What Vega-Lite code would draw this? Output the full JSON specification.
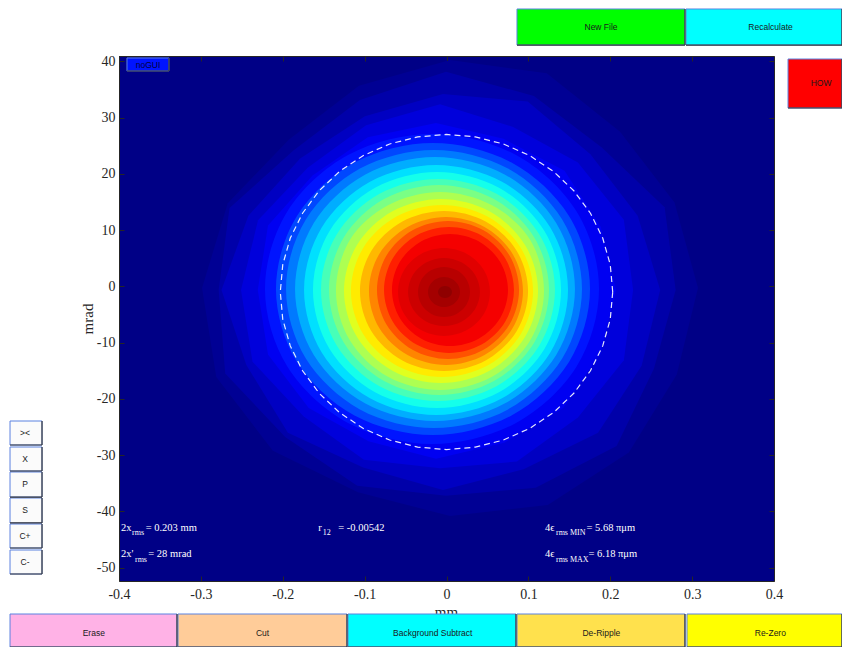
{
  "$schema": "https://vega.github.io/schema/vega-lite/v6.json",
  "width": 655,
  "height": 525,
  "autosize": {"type": "none"},
  "padding": {"left": 119, "top": 56, "right": 68, "bottom": 66},
  "background": "#ffffff",
  "config": {
    "view": {"stroke": null, "fill": "#000086"},
    "locale": {"number": {"decimal": ".", "thousands": ",", "grouping": [3], "currency": ["$", ""], "minus": "-"}},
    "axis": {
      "grid": false, "zindex": 1, "tickSize": -5, "tickColor": "#262626", "domainColor": "#262626",
      "labelFlush": false, "labelOverlap": false,
      "labelColor": "#262626", "labelFont": "Liberation Serif", "labelFontSize": 14,
      "titleFont": "Liberation Serif", "titleFontSize": 15, "titleFontWeight": "normal", "titleColor": "#262626"
    }
  },
  "datasets": {
    "outer": [
      {"l":1,"v":0.02,"i":0,"x":0.3072,"y":-0.29},{"l":1,"v":0.02,"i":1,"x":0.2785,"y":14.91},{"l":1,"v":0.02,"i":2,"x":0.2120,"y":27.50},{"l":1,"v":0.02,"i":3,"x":0.1225,"y":37.89},
      {"l":1,"v":0.02,"i":4,"x":0.0043,"y":40.23},{"l":1,"v":0.02,"i":5,"x":-0.1070,"y":35.65},{"l":1,"v":0.02,"i":6,"x":-0.1928,"y":26.07},{"l":1,"v":0.02,"i":7,"x":-0.2672,"y":14.75},
      {"l":1,"v":0.02,"i":8,"x":-0.2986,"y":-0.29},{"l":1,"v":0.02,"i":9,"x":-0.2812,"y":-16.11},{"l":1,"v":0.02,"i":10,"x":-0.2121,"y":-29.23},{"l":1,"v":0.02,"i":11,"x":-0.1082,"y":-36.60},
      {"l":1,"v":0.02,"i":12,"x":0.0043,"y":-40.81},{"l":1,"v":0.02,"i":13,"x":0.1237,"y":-38.85},{"l":1,"v":0.02,"i":14,"x":0.2227,"y":-29.51},{"l":1,"v":0.02,"i":15,"x":0.2813,"y":-15.64},
      {"l":2,"v":0.04,"i":0,"x":0.2799,"y":-0.65},{"l":2,"v":0.04,"i":1,"x":0.2664,"y":14.06},{"l":2,"v":0.04,"i":2,"x":0.1897,"y":24.66},{"l":2,"v":0.04,"i":3,"x":0.1068,"y":33.82},
      {"l":2,"v":0.04,"i":4,"x":-0.0006,"y":38.16},{"l":2,"v":0.04,"i":5,"x":-0.1058,"y":33.12},{"l":2,"v":0.04,"i":6,"x":-0.1870,"y":24.13},{"l":2,"v":0.04,"i":7,"x":-0.2650,"y":13.92},
      {"l":2,"v":0.04,"i":8,"x":-0.2783,"y":-0.65},{"l":2,"v":0.04,"i":9,"x":-0.2703,"y":-15.50},{"l":2,"v":0.04,"i":10,"x":-0.1970,"y":-26.75},{"l":2,"v":0.04,"i":11,"x":-0.1091,"y":-35.45},
      {"l":2,"v":0.04,"i":12,"x":-0.0006,"y":-37.19},{"l":2,"v":0.04,"i":13,"x":0.1089,"y":-35.80},{"l":2,"v":0.04,"i":14,"x":0.2078,"y":-28.35},{"l":2,"v":0.04,"i":15,"x":0.2533,"y":-14.63},
      {"l":3,"v":0.065,"i":0,"x":0.2610,"y":-0.65},{"l":3,"v":0.065,"i":1,"x":0.2335,"y":12.55},{"l":3,"v":0.065,"i":2,"x":0.1758,"y":23.49},{"l":3,"v":0.065,"i":3,"x":0.0992,"y":32.84},
      {"l":3,"v":0.065,"i":4,"x":-0.0043,"y":34.19},{"l":3,"v":0.065,"i":5,"x":-0.0997,"y":30.24},{"l":3,"v":0.065,"i":6,"x":-0.1788,"y":22.74},{"l":3,"v":0.065,"i":7,"x":-0.2420,"y":12.55},
      {"l":3,"v":0.065,"i":8,"x":-0.2748,"y":-0.65},{"l":3,"v":0.065,"i":9,"x":-0.2445,"y":-13.98},{"l":3,"v":0.065,"i":10,"x":-0.1937,"y":-26.02},{"l":3,"v":0.065,"i":11,"x":-0.1018,"y":-32.18},
      {"l":3,"v":0.065,"i":12,"x":-0.0043,"y":-36.19},{"l":3,"v":0.065,"i":13,"x":0.0942,"y":-32.51},{"l":3,"v":0.065,"i":14,"x":0.1851,"y":-26.02},{"l":3,"v":0.065,"i":15,"x":0.2383,"y":-14.11},
      {"l":4,"v":0.09,"i":0,"x":0.2279,"y":-0.65},{"l":4,"v":0.09,"i":1,"x":0.2166,"y":11.86},{"l":4,"v":0.09,"i":2,"x":0.1605,"y":22.00},{"l":4,"v":0.09,"i":3,"x":0.0814,"y":28.34},
      {"l":4,"v":0.09,"i":4,"x":-0.0079,"y":32.35},{"l":4,"v":0.09,"i":5,"x":-0.0982,"y":28.64},{"l":4,"v":0.09,"i":6,"x":-0.1696,"y":21.08},{"l":4,"v":0.09,"i":7,"x":-0.2302,"y":11.73},
      {"l":4,"v":0.09,"i":8,"x":-0.2510,"y":-0.65},{"l":4,"v":0.09,"i":9,"x":-0.2369,"y":-13.39},{"l":4,"v":0.09,"i":10,"x":-0.1747,"y":-23.06},{"l":4,"v":0.09,"i":11,"x":-0.1009,"y":-30.83},
      {"l":4,"v":0.09,"i":12,"x":-0.0079,"y":-32.34},{"l":4,"v":0.09,"i":13,"x":0.0860,"y":-31.13},{"l":4,"v":0.09,"i":14,"x":0.1605,"y":-23.29},{"l":4,"v":0.09,"i":15,"x":0.2166,"y":-13.15},
      {"l":5,"v":0.112,"i":0,"x":0.2070,"y":-0.65},{"l":5,"v":0.112,"i":1,"x":0.1883,"y":10.60},{"l":5,"v":0.112,"i":2,"x":0.1442,"y":20.55},{"l":5,"v":0.112,"i":3,"x":0.0696,"y":26.23},
      {"l":5,"v":0.112,"i":4,"x":-0.0128,"y":29.03},{"l":5,"v":0.112,"i":5,"x":-0.0961,"y":26.50},{"l":5,"v":0.112,"i":6,"x":-0.1636,"y":19.71},{"l":5,"v":0.112,"i":7,"x":-0.2180,"y":10.83},
      {"l":5,"v":0.112,"i":8,"x":-0.2305,"y":-0.65},{"l":5,"v":0.112,"i":9,"x":-0.2180,"y":-12.12},{"l":5,"v":0.112,"i":10,"x":-0.1683,"y":-21.63},{"l":5,"v":0.112,"i":11,"x":-0.0953,"y":-27.52},
      {"l":5,"v":0.112,"i":12,"x":-0.0128,"y":-30.62},{"l":5,"v":0.112,"i":13,"x":0.0705,"y":-27.79},{"l":5,"v":0.112,"i":14,"x":0.1426,"y":-21.63},{"l":5,"v":0.112,"i":15,"x":0.1883,"y":-11.89}
    ],
    "inner": [
      {"l":6,"v":0.145,"i":0,"x":0.1863,"y":-0.47},{"l":6,"v":0.145,"i":1,"x":0.1589,"y":13.31},{"l":6,"v":0.145,"i":2,"x":0.0843,"y":23.39},{"l":6,"v":0.145,"i":3,"x":-0.0177,"y":27.08},{"l":6,"v":0.145,"i":4,"x":-0.1197,"y":23.39},{"l":6,"v":0.145,"i":5,"x":-0.1944,"y":13.31},
      {"l":6,"v":0.145,"i":6,"x":-0.2217,"y":-0.47},{"l":6,"v":0.145,"i":7,"x":-0.1944,"y":-14.24},{"l":6,"v":0.145,"i":8,"x":-0.1197,"y":-24.32},{"l":6,"v":0.145,"i":9,"x":-0.0177,"y":-28.01},{"l":6,"v":0.145,"i":10,"x":0.0843,"y":-24.32},{"l":6,"v":0.145,"i":11,"x":0.1589,"y":-14.24},
      {"l":7,"v":0.195,"i":0,"x":0.1753,"y":-0.47},{"l":7,"v":0.195,"i":1,"x":0.1496,"y":12.51},{"l":7,"v":0.195,"i":2,"x":0.0794,"y":22.00},{"l":7,"v":0.195,"i":3,"x":-0.0165,"y":25.48},{"l":7,"v":0.195,"i":4,"x":-0.1124,"y":22.00},{"l":7,"v":0.195,"i":5,"x":-0.1826,"y":12.51},
      {"l":7,"v":0.195,"i":6,"x":-0.2083,"y":-0.47},{"l":7,"v":0.195,"i":7,"x":-0.1826,"y":-13.44},{"l":7,"v":0.195,"i":8,"x":-0.1124,"y":-22.94},{"l":7,"v":0.195,"i":9,"x":-0.0165,"y":-26.41},{"l":7,"v":0.195,"i":10,"x":0.0794,"y":-22.94},{"l":7,"v":0.195,"i":11,"x":0.1496,"y":-13.44},
      {"l":8,"v":0.245,"i":0,"x":0.1655,"y":-0.47},{"l":8,"v":0.245,"i":1,"x":0.1413,"y":11.88},{"l":8,"v":0.245,"i":2,"x":0.0751,"y":20.93},{"l":8,"v":0.245,"i":3,"x":-0.0153,"y":24.24},{"l":8,"v":0.245,"i":4,"x":-0.1057,"y":20.93},{"l":8,"v":0.245,"i":5,"x":-0.1718,"y":11.88},
      {"l":8,"v":0.245,"i":6,"x":-0.1960,"y":-0.47},{"l":8,"v":0.245,"i":7,"x":-0.1718,"y":-12.82},{"l":8,"v":0.245,"i":8,"x":-0.1057,"y":-21.86},{"l":8,"v":0.245,"i":9,"x":-0.0153,"y":-25.17},{"l":8,"v":0.245,"i":10,"x":0.0751,"y":-21.86},{"l":8,"v":0.245,"i":11,"x":0.1413,"y":-12.82},
      {"l":9,"v":0.295,"i":0,"x":0.1569,"y":-0.47},{"l":9,"v":0.295,"i":1,"x":0.1340,"y":11.26},{"l":9,"v":0.295,"i":2,"x":0.0715,"y":19.85},{"l":9,"v":0.295,"i":3,"x":-0.0141,"y":22.99},{"l":9,"v":0.295,"i":4,"x":-0.0996,"y":19.85},{"l":9,"v":0.295,"i":5,"x":-0.1621,"y":11.26},
      {"l":9,"v":0.295,"i":6,"x":-0.1850,"y":-0.47},{"l":9,"v":0.295,"i":7,"x":-0.1621,"y":-12.20},{"l":9,"v":0.295,"i":8,"x":-0.0996,"y":-20.78},{"l":9,"v":0.295,"i":9,"x":-0.0141,"y":-23.93},{"l":9,"v":0.295,"i":10,"x":0.0715,"y":-20.78},{"l":9,"v":0.295,"i":11,"x":0.1340,"y":-12.20},
      {"l":10,"v":0.345,"i":0,"x":0.1484,"y":-0.65},{"l":10,"v":0.345,"i":1,"x":0.1268,"y":10.46},{"l":10,"v":0.345,"i":2,"x":0.0678,"y":18.59},{"l":10,"v":0.345,"i":3,"x":-0.0128,"y":21.57},{"l":10,"v":0.345,"i":4,"x":-0.0934,"y":18.59},{"l":10,"v":0.345,"i":5,"x":-0.1524,"y":10.46},
      {"l":10,"v":0.345,"i":6,"x":-0.1740,"y":-0.65},{"l":10,"v":0.345,"i":7,"x":-0.1524,"y":-11.75},{"l":10,"v":0.345,"i":8,"x":-0.0934,"y":-19.88},{"l":10,"v":0.345,"i":9,"x":-0.0128,"y":-22.86},{"l":10,"v":0.345,"i":10,"x":0.0678,"y":-19.88},{"l":10,"v":0.345,"i":11,"x":0.1268,"y":-11.75},
      {"l":11,"v":0.395,"i":0,"x":0.1399,"y":-0.65},{"l":11,"v":0.395,"i":1,"x":0.1196,"y":9.84},{"l":11,"v":0.395,"i":2,"x":0.0641,"y":17.52},{"l":11,"v":0.395,"i":3,"x":-0.0116,"y":20.33},{"l":11,"v":0.395,"i":4,"x":-0.0873,"y":17.52},{"l":11,"v":0.395,"i":5,"x":-0.1428,"y":9.84},
      {"l":11,"v":0.395,"i":6,"x":-0.1631,"y":-0.65},{"l":11,"v":0.395,"i":7,"x":-0.1428,"y":-11.13},{"l":11,"v":0.395,"i":8,"x":-0.0873,"y":-18.81},{"l":11,"v":0.395,"i":9,"x":-0.0116,"y":-21.62},{"l":11,"v":0.395,"i":10,"x":0.0641,"y":-18.81},{"l":11,"v":0.395,"i":11,"x":0.1196,"y":-11.13},
      {"l":12,"v":0.445,"i":0,"x":0.1325,"y":-0.65},{"l":12,"v":0.445,"i":1,"x":0.1134,"y":9.22},{"l":12,"v":0.445,"i":2,"x":0.0611,"y":16.44},{"l":12,"v":0.445,"i":3,"x":-0.0104,"y":19.08},{"l":12,"v":0.445,"i":4,"x":-0.0818,"y":16.44},{"l":12,"v":0.445,"i":5,"x":-0.1341,"y":9.22},
      {"l":12,"v":0.445,"i":6,"x":-0.1533,"y":-0.65},{"l":12,"v":0.445,"i":7,"x":-0.1341,"y":-10.51},{"l":12,"v":0.445,"i":8,"x":-0.0818,"y":-17.73},{"l":12,"v":0.445,"i":9,"x":-0.0104,"y":-20.37},{"l":12,"v":0.445,"i":10,"x":0.0611,"y":-17.73},{"l":12,"v":0.445,"i":11,"x":0.1134,"y":-10.51},
      {"l":13,"v":0.495,"i":0,"x":0.1252,"y":-0.65},{"l":13,"v":0.495,"i":1,"x":0.1072,"y":8.69},{"l":13,"v":0.495,"i":2,"x":0.0580,"y":15.52},{"l":13,"v":0.495,"i":3,"x":-0.0092,"y":18.02},{"l":13,"v":0.495,"i":4,"x":-0.0763,"y":15.52},{"l":13,"v":0.495,"i":5,"x":-0.1255,"y":8.69},
      {"l":13,"v":0.495,"i":6,"x":-0.1435,"y":-0.65},{"l":13,"v":0.495,"i":7,"x":-0.1255,"y":-9.98},{"l":13,"v":0.495,"i":8,"x":-0.0763,"y":-16.81},{"l":13,"v":0.495,"i":9,"x":-0.0092,"y":-19.31},{"l":13,"v":0.495,"i":10,"x":0.0580,"y":-16.81},{"l":13,"v":0.495,"i":11,"x":0.1072,"y":-9.98},
      {"l":14,"v":0.545,"i":0,"x":0.1191,"y":-0.82},{"l":14,"v":0.545,"i":1,"x":0.1021,"y":8.27},{"l":14,"v":0.545,"i":2,"x":0.0556,"y":14.41},{"l":14,"v":0.545,"i":3,"x":-0.0079,"y":16.77},{"l":14,"v":0.545,"i":4,"x":-0.0715,"y":14.41},{"l":14,"v":0.545,"i":5,"x":-0.1179,"y":8.27},
      {"l":14,"v":0.545,"i":6,"x":-0.1350,"y":-0.82},{"l":14,"v":0.545,"i":7,"x":-0.1179,"y":-9.62},{"l":14,"v":0.545,"i":8,"x":-0.0715,"y":-16.06},{"l":14,"v":0.545,"i":9,"x":-0.0079,"y":-18.42},{"l":14,"v":0.545,"i":10,"x":0.0556,"y":-16.06},{"l":14,"v":0.545,"i":11,"x":0.1021,"y":-9.62},
      {"l":15,"v":0.595,"i":0,"x":0.1118,"y":-0.82},{"l":15,"v":0.595,"i":1,"x":0.0959,"y":7.35},{"l":15,"v":0.595,"i":2,"x":0.0525,"y":13.34},{"l":15,"v":0.595,"i":3,"x":-0.0067,"y":15.53},{"l":15,"v":0.595,"i":4,"x":-0.0660,"y":13.34},{"l":15,"v":0.595,"i":5,"x":-0.1093,"y":7.35},
      {"l":15,"v":0.595,"i":6,"x":-0.1252,"y":-0.82},{"l":15,"v":0.595,"i":7,"x":-0.1093,"y":-9.00},{"l":15,"v":0.595,"i":8,"x":-0.0660,"y":-14.98},{"l":15,"v":0.595,"i":9,"x":-0.0067,"y":-17.17},{"l":15,"v":0.595,"i":10,"x":0.0525,"y":-14.98},{"l":15,"v":0.595,"i":11,"x":0.0959,"y":-9.00},
      {"l":16,"v":0.645,"i":0,"x":0.1057,"y":-0.82},{"l":16,"v":0.645,"i":1,"x":0.0908,"y":6.82},{"l":16,"v":0.645,"i":2,"x":0.0501,"y":12.41},{"l":16,"v":0.645,"i":3,"x":-0.0055,"y":14.46},{"l":16,"v":0.645,"i":4,"x":-0.0611,"y":12.41},{"l":16,"v":0.645,"i":5,"x":-0.1018,"y":6.82},
      {"l":16,"v":0.645,"i":6,"x":-0.1167,"y":-0.82},{"l":16,"v":0.645,"i":7,"x":-0.1018,"y":-8.46},{"l":16,"v":0.645,"i":8,"x":-0.0611,"y":-14.06},{"l":16,"v":0.645,"i":9,"x":-0.0055,"y":-16.11},{"l":16,"v":0.645,"i":10,"x":0.0501,"y":-14.06},{"l":16,"v":0.645,"i":11,"x":0.0908,"y":-8.46},
      {"l":17,"v":0.695,"i":0,"x":0.0996,"y":-0.82},{"l":17,"v":0.695,"i":1,"x":0.0858,"y":6.29},{"l":17,"v":0.695,"i":2,"x":0.0483,"y":11.49},{"l":17,"v":0.695,"i":3,"x":-0.0031,"y":13.39},{"l":17,"v":0.695,"i":4,"x":-0.0544,"y":11.49},{"l":17,"v":0.695,"i":5,"x":-0.0919,"y":6.29},
      {"l":17,"v":0.695,"i":6,"x":-0.1057,"y":-0.82},{"l":17,"v":0.695,"i":7,"x":-0.0919,"y":-7.93},{"l":17,"v":0.695,"i":8,"x":-0.0544,"y":-13.13},{"l":17,"v":0.695,"i":9,"x":-0.0031,"y":-15.04},{"l":17,"v":0.695,"i":10,"x":0.0483,"y":-13.13},{"l":17,"v":0.695,"i":11,"x":0.0858,"y":-7.93},
      {"l":18,"v":0.745,"i":0,"x":0.0934,"y":-0.82},{"l":18,"v":0.745,"i":1,"x":0.0808,"y":5.76},{"l":18,"v":0.745,"i":2,"x":0.0464,"y":10.57},{"l":18,"v":0.745,"i":3,"x":-0.0006,"y":12.33},{"l":18,"v":0.745,"i":4,"x":-0.0476,"y":10.57},{"l":18,"v":0.745,"i":5,"x":-0.0821,"y":5.76},
      {"l":18,"v":0.745,"i":6,"x":-0.0947,"y":-0.82},{"l":18,"v":0.745,"i":7,"x":-0.0821,"y":-7.40},{"l":18,"v":0.745,"i":8,"x":-0.0476,"y":-12.21},{"l":18,"v":0.745,"i":9,"x":-0.0006,"y":-13.97},{"l":18,"v":0.745,"i":10,"x":0.0464,"y":-12.21},{"l":18,"v":0.745,"i":11,"x":0.0808,"y":-7.40},
      {"l":19,"v":0.795,"i":0,"x":0.0886,"y":-0.65},{"l":19,"v":0.795,"i":1,"x":0.0769,"y":5.49},{"l":19,"v":0.795,"i":2,"x":0.0452,"y":9.97},{"l":19,"v":0.795,"i":3,"x":0.0018,"y":11.62},{"l":19,"v":0.795,"i":4,"x":-0.0415,"y":9.97},{"l":19,"v":0.795,"i":5,"x":-0.0733,"y":5.49},
      {"l":19,"v":0.795,"i":6,"x":-0.0849,"y":-0.65},{"l":19,"v":0.795,"i":7,"x":-0.0733,"y":-6.78},{"l":19,"v":0.795,"i":8,"x":-0.0415,"y":-11.26},{"l":19,"v":0.795,"i":9,"x":0.0018,"y":-12.91},{"l":19,"v":0.795,"i":10,"x":0.0452,"y":-11.26},{"l":19,"v":0.795,"i":11,"x":0.0769,"y":-6.78},
      {"l":20,"v":0.845,"i":0,"x":0.0824,"y":-0.65},{"l":20,"v":0.845,"i":1,"x":0.0718,"y":4.95},{"l":20,"v":0.845,"i":2,"x":0.0428,"y":9.05},{"l":20,"v":0.845,"i":3,"x":0.0031,"y":10.55},{"l":20,"v":0.845,"i":4,"x":-0.0367,"y":9.05},{"l":20,"v":0.845,"i":5,"x":-0.0657,"y":4.95},
      {"l":20,"v":0.845,"i":6,"x":-0.0763,"y":-0.65},{"l":20,"v":0.845,"i":7,"x":-0.0657,"y":-6.24},{"l":20,"v":0.845,"i":8,"x":-0.0367,"y":-10.34},{"l":20,"v":0.845,"i":9,"x":0.0031,"y":-11.84},{"l":20,"v":0.845,"i":10,"x":0.0428,"y":-10.34},{"l":20,"v":0.845,"i":11,"x":0.0718,"y":-6.24},
      {"l":21,"v":0.885,"i":0,"x":0.0751,"y":-0.65},{"l":21,"v":0.885,"i":1,"x":0.0656,"y":4.33},{"l":21,"v":0.885,"i":2,"x":0.0397,"y":7.97},{"l":21,"v":0.885,"i":3,"x":0.0043,"y":9.31},{"l":21,"v":0.885,"i":4,"x":-0.0312,"y":7.97},{"l":21,"v":0.885,"i":5,"x":-0.0571,"y":4.33},
      {"l":21,"v":0.885,"i":6,"x":-0.0666,"y":-0.65},{"l":21,"v":0.885,"i":7,"x":-0.0571,"y":-5.62},{"l":21,"v":0.885,"i":8,"x":-0.0312,"y":-9.26},{"l":21,"v":0.885,"i":9,"x":0.0043,"y":-10.60},{"l":21,"v":0.885,"i":10,"x":0.0397,"y":-9.26},{"l":21,"v":0.885,"i":11,"x":0.0656,"y":-5.62},
      {"l":22,"v":0.905,"i":0,"x":0.0531,"y":-1.00},{"l":22,"v":0.905,"i":1,"x":0.0456,"y":2.91},{"l":22,"v":0.905,"i":2,"x":0.0250,"y":5.77},{"l":22,"v":0.905,"i":3,"x":-0.0031,"y":6.82},{"l":22,"v":0.905,"i":4,"x":-0.0311,"y":5.77},{"l":22,"v":0.905,"i":5,"x":-0.0517,"y":2.91},
      {"l":22,"v":0.905,"i":6,"x":-0.0592,"y":-1.00},{"l":22,"v":0.905,"i":7,"x":-0.0517,"y":-4.91},{"l":22,"v":0.905,"i":8,"x":-0.0311,"y":-7.77},{"l":22,"v":0.905,"i":9,"x":-0.0031,"y":-8.82},{"l":22,"v":0.905,"i":10,"x":0.0250,"y":-7.77},{"l":22,"v":0.905,"i":11,"x":0.0456,"y":-4.91},
      {"l":23,"v":0.925,"i":0,"x":0.0409,"y":-1.00},{"l":23,"v":0.925,"i":1,"x":0.0350,"y":2.02},{"l":23,"v":0.925,"i":2,"x":0.0189,"y":4.23},{"l":23,"v":0.925,"i":3,"x":-0.0031,"y":5.04},{"l":23,"v":0.925,"i":4,"x":-0.0250,"y":4.23},{"l":23,"v":0.925,"i":5,"x":-0.0411,"y":2.02},
      {"l":23,"v":0.925,"i":6,"x":-0.0470,"y":-1.00},{"l":23,"v":0.925,"i":7,"x":-0.0411,"y":-4.02},{"l":23,"v":0.925,"i":8,"x":-0.0250,"y":-6.23},{"l":23,"v":0.925,"i":9,"x":-0.0031,"y":-7.04},{"l":23,"v":0.925,"i":10,"x":0.0189,"y":-6.23},{"l":23,"v":0.925,"i":11,"x":0.0350,"y":-4.02},
      {"l":24,"v":0.945,"i":0,"x":0.0287,"y":-1.00},{"l":24,"v":0.945,"i":1,"x":0.0245,"y":1.22},{"l":24,"v":0.945,"i":2,"x":0.0128,"y":2.85},{"l":24,"v":0.945,"i":3,"x":-0.0031,"y":3.44},{"l":24,"v":0.945,"i":4,"x":-0.0189,"y":2.85},{"l":24,"v":0.945,"i":5,"x":-0.0306,"y":1.22},
      {"l":24,"v":0.945,"i":6,"x":-0.0348,"y":-1.00},{"l":24,"v":0.945,"i":7,"x":-0.0306,"y":-3.22},{"l":24,"v":0.945,"i":8,"x":-0.0189,"y":-4.85},{"l":24,"v":0.945,"i":9,"x":-0.0031,"y":-5.44},{"l":24,"v":0.945,"i":10,"x":0.0128,"y":-4.85},{"l":24,"v":0.945,"i":11,"x":0.0245,"y":-3.22},
      {"l":25,"v":0.965,"i":0,"x":0.0165,"y":-1.00},{"l":25,"v":0.965,"i":1,"x":0.0139,"y":0.33},{"l":25,"v":0.965,"i":2,"x":0.0067,"y":1.31},{"l":25,"v":0.965,"i":3,"x":-0.0031,"y":1.67},{"l":25,"v":0.965,"i":4,"x":-0.0128,"y":1.31},{"l":25,"v":0.965,"i":5,"x":-0.0200,"y":0.33},
      {"l":25,"v":0.965,"i":6,"x":-0.0226,"y":-1.00},{"l":25,"v":0.965,"i":7,"x":-0.0200,"y":-2.33},{"l":25,"v":0.965,"i":8,"x":-0.0128,"y":-3.31},{"l":25,"v":0.965,"i":9,"x":-0.0031,"y":-3.67},{"l":25,"v":0.965,"i":10,"x":0.0067,"y":-3.31},{"l":25,"v":0.965,"i":11,"x":0.0139,"y":-2.33},
      {"l":26,"v":0.985,"i":0,"x":0.0067,"y":-1.00},{"l":26,"v":0.985,"i":1,"x":0.0056,"y":-0.47},{"l":26,"v":0.985,"i":2,"x":0.0024,"y":-0.08},{"l":26,"v":0.985,"i":3,"x":-0.0018,"y":0.07},{"l":26,"v":0.985,"i":4,"x":-0.0061,"y":-0.08},{"l":26,"v":0.985,"i":5,"x":-0.0092,"y":-0.47},
      {"l":26,"v":0.985,"i":6,"x":-0.0104,"y":-1.00},{"l":26,"v":0.985,"i":7,"x":-0.0092,"y":-1.53},{"l":26,"v":0.985,"i":8,"x":-0.0061,"y":-1.92},{"l":26,"v":0.985,"i":9,"x":-0.0018,"y":-2.07},{"l":26,"v":0.985,"i":10,"x":0.0024,"y":-1.92},{"l":26,"v":0.985,"i":11,"x":0.0056,"y":-1.53}
    ],
    "ring": [
      {"i":0,"x":0.203,"y":-1},{"i":1,"x":0.2,"y":3.86},{"i":2,"x":0.1908,"y":8.58},{"i":3,"x":0.1758,"y":13},{"i":4,"x":0.1555,"y":17},{"i":5,"x":0.1305,"y":20.45},
      {"i":6,"x":0.1015,"y":23.25},{"i":7,"x":0.0694,"y":25.31},{"i":8,"x":0.0352,"y":26.57},{"i":9,"x":0,"y":27},{"i":10,"x":-0.0352,"y":26.57},{"i":11,"x":-0.0694,"y":25.31},
      {"i":12,"x":-0.1015,"y":23.25},{"i":13,"x":-0.1305,"y":20.45},{"i":14,"x":-0.1555,"y":17},{"i":15,"x":-0.1758,"y":13},{"i":16,"x":-0.1908,"y":8.58},{"i":17,"x":-0.2,"y":3.86},
      {"i":18,"x":-0.203,"y":-1},{"i":19,"x":-0.2,"y":-5.86},{"i":20,"x":-0.1908,"y":-10.58},{"i":21,"x":-0.1758,"y":-15},{"i":22,"x":-0.1555,"y":-19},{"i":23,"x":-0.1305,"y":-22.45},
      {"i":24,"x":-0.1015,"y":-25.25},{"i":25,"x":-0.0694,"y":-27.31},{"i":26,"x":-0.0352,"y":-28.57},{"i":27,"x":0,"y":-29},{"i":28,"x":0.0352,"y":-28.57},{"i":29,"x":0.0694,"y":-27.31},
      {"i":30,"x":0.1015,"y":-25.25},{"i":31,"x":0.1305,"y":-22.45},{"i":32,"x":0.1555,"y":-19},{"i":33,"x":0.1758,"y":-15},{"i":34,"x":0.1908,"y":-10.58},{"i":35,"x":0.2,"y":-5.86}
    ],
    "notes": [
      {"x":-0.3976,"y":-43.39,"t":"2x"},
      {"x":-0.3674,"y":-43.39,"t":"= 0.203 mm"},
      {"x":-0.1566,"y":-43.39,"t":"r"},
      {"x":-0.1322,"y":-43.39,"t":"= -0.00542"},
      {"x":0.1203,"y":-43.39,"t":"4ϵ"},
      {"x":0.1710,"y":-43.39,"t":"= 5.68 πμm"},
      {"x":-0.3976,"y":-48.10,"t":"2x'"},
      {"x":-0.3642,"y":-48.10,"t":"= 28 mrad"},
      {"x":0.1203,"y":-48.10,"t":"4ϵ"},
      {"x":0.1734,"y":-48.10,"t":"= 6.18 πμm"}
    ],
    "subs": [
      {"x":-0.3841,"y":-43.39,"t":"rms"},
      {"x":-0.1512,"y":-43.39,"t":"12"},
      {"x":0.1337,"y":-43.39,"t":"rms MIN"},
      {"x":-0.3805,"y":-48.10,"t":"rms"},
      {"x":0.1337,"y":-48.10,"t":"rms MAX"}
    ],
    "xtitle": [{"x":0,"y":-58.76,"t":"mm"}],
    "buttons": [
      {"b":"New File","x0":0.6140,"x1":0.8135,"y0":0.9304,"y1":0.9861,"cx":0.7138,"cy":0.9588},
      {"b":"Recalculate","x0":0.8147,"x1":1.0,"y0":0.9304,"y1":0.9861,"cx":0.9151,"cy":0.9588},
      {"b":"HOW","x0":0.9359,"x1":1.0,"y0":0.8331,"y1":0.9088,"cx":0.9751,"cy":0.8712},
      {"b":"><","x0":0.0119,"x1":0.0499,"y0":0.3122,"y1":0.3493,"cx":0.0297,"cy":0.3308},
      {"b":"X","x0":0.0119,"x1":0.0499,"y0":0.2720,"y1":0.3091,"cx":0.0297,"cy":0.2906},
      {"b":"P","x0":0.0119,"x1":0.0499,"y0":0.2318,"y1":0.2705,"cx":0.0297,"cy":0.2512},
      {"b":"S","x0":0.0119,"x1":0.0499,"y0":0.1917,"y1":0.2303,"cx":0.0297,"cy":0.2110},
      {"b":"C+","x0":0.0119,"x1":0.0499,"y0":0.1530,"y1":0.1901,"cx":0.0297,"cy":0.1716},
      {"b":"C-","x0":0.0119,"x1":0.0499,"y0":0.1128,"y1":0.1499,"cx":0.0297,"cy":0.1314},
      {"b":"Erase","x0":0.0119,"x1":0.2102,"y0":0.0,"y1":0.0510,"cx":0.1114,"cy":0.0212},
      {"b":"Cut","x0":0.2114,"x1":0.4121,"y0":0.0,"y1":0.0510,"cx":0.3118,"cy":0.0212},
      {"b":"Background Subtract","x0":0.4133,"x1":0.6128,"y0":0.0,"y1":0.0510,"cx":0.5139,"cy":0.0212},
      {"b":"De-Ripple","x0":0.6140,"x1":0.8135,"y0":0.0,"y1":0.0510,"cx":0.7142,"cy":0.0212},
      {"b":"Re-Zero","x0":0.8159,"x1":1.0,"y0":0.0,"y1":0.0510,"cx":0.9149,"cy":0.0212},
      {"b":"noGUI","x0":0.1508,"x1":0.2007,"y0":0.8903,"y1":0.9104,"cx":0.1758,"cy":0.9003}
    ]
  },
  "resolve": {"scale": {"x": "independent", "y": "independent", "color": "independent"}},
  "layer": [
    {
      "encoding": {
        "x": {"field": "x", "type": "quantitative",
              "scale": {"domain": [-0.4, 0.4], "nice": false, "zero": false},
              "axis": {"orient": "bottom", "values": [-0.4, -0.3, -0.2, -0.1, 0, 0.1, 0.2, 0.3, 0.4], "format": ".1~f", "labelPadding": 11, "title": null}},
        "y": {"field": "y", "type": "quantitative",
              "scale": {"domain": [-52.36, 40.94], "nice": false, "zero": false},
              "axis": {"orient": "left", "values": [-50, -40, -30, -20, -10, 0, 10, 20, 30, 40], "format": "d", "labelPadding": 9, "title": "mrad", "titlePadding": 1}}
      },
      "layer": [
        {
          "data": {"name": "outer"},
          "mark": {"type": "line", "filled": true, "interpolate": "linear-closed", "clip": true},
          "encoding": {
            "color": {"field": "v", "type": "quantitative", "legend": null,
                      "scale": {"type": "linear", "domain": [0, 0.125, 0.375, 0.625, 0.875, 1], "range": ["#000080", "#0000ff", "#00ffff", "#ffff00", "#ff0000", "#800000"], "interpolate": "rgb"}},
            "detail": {"field": "l", "type": "nominal"},
            "order": {"field": "i", "type": "quantitative"}
          }
        },
        {
          "data": {"name": "inner"},
          "mark": {"type": "line", "filled": true, "interpolate": "cardinal-closed", "clip": true},
          "encoding": {
            "color": {"field": "v", "type": "quantitative", "legend": null},
            "detail": {"field": "l", "type": "nominal"},
            "order": {"field": "i", "type": "quantitative"}
          }
        },
        {
          "data": {"name": "notes"},
          "mark": {"type": "text", "font": "Liberation Serif", "fontSize": 10.5, "color": "#ffffff", "align": "left", "baseline": "alphabetic"},
          "encoding": {"text": {"field": "t"}}
        },
        {
          "data": {"name": "subs"},
          "mark": {"type": "text", "font": "Liberation Serif", "fontSize": 8, "color": "#ffffff", "align": "left", "baseline": "alphabetic", "dy": 4.5},
          "encoding": {"text": {"field": "t"}}
        },
        {
          "data": {"name": "xtitle"},
          "mark": {"type": "text", "font": "Liberation Serif", "fontSize": 15, "color": "#262626", "align": "center", "baseline": "alphabetic"},
          "encoding": {"text": {"field": "t"}}
        }
      ]
    },
    {
      "data": {"name": "ring"},
      "mark": {"type": "line", "interpolate": "linear-closed", "color": "#ffffff", "strokeWidth": 1.2, "strokeDash": [6, 4], "opacity": 0.9, "clip": true},
      "encoding": {
        "x": {"field": "x", "type": "quantitative",
              "scale": {"domain": [-0.4, 0.4], "nice": false, "zero": false},
              "axis": {"orient": "top", "labels": false, "values": [-0.4, -0.3, -0.2, -0.1, 0, 0.1, 0.2, 0.3, 0.4], "title": null}},
        "y": {"field": "y", "type": "quantitative",
              "scale": {"domain": [-52.36, 40.94], "nice": false, "zero": false},
              "axis": {"orient": "right", "labels": false, "values": [-50, -40, -30, -20, -10, 0, 10, 20, 30, 40], "title": null}},
        "order": {"field": "i", "type": "quantitative"}
      }
    },
    {
      "data": {"name": "buttons"},
      "layer": [
        {
          "mark": {"type": "rect", "stroke": "#5b82e0", "strokeWidth": 1},
          "encoding": {
            "x": {"field": "x0", "type": "quantitative", "scale": {"domain": [0.14133, 0.91924], "nice": false, "zero": false}, "axis": null},
            "x2": {"field": "x1"},
            "y": {"field": "y0", "type": "quantitative", "scale": {"domain": [0.10201, 0.91345], "nice": false, "zero": false}, "axis": null},
            "y2": {"field": "y1"},
            "color": {"field": "b", "type": "nominal", "legend": null,
                      "scale": {"domain": ["New File", "Recalculate", "HOW", "><", "X", "P", "S", "C+", "C-", "Erase", "Cut", "Background Subtract", "De-Ripple", "Re-Zero", "noGUI"],
                                "range": ["#00ff00", "#00ffff", "#ff0000", "#fbfbfb", "#fbfbfb", "#fbfbfb", "#fbfbfb", "#fbfbfb", "#fbfbfb", "#ffb2e6", "#ffcc99", "#00ffff", "#ffe14d", "#ffff00", "#0014ff"]}}
          }
        },
        {
          "mark": {"type": "rule", "color": "#3a3a3a", "strokeWidth": 1.2},
          "encoding": {
            "x": {"field": "x1", "type": "quantitative", "scale": {"domain": [0.14133, 0.91924], "nice": false, "zero": false}, "axis": null},
            "y": {"field": "y0", "type": "quantitative", "scale": {"domain": [0.10201, 0.91345], "nice": false, "zero": false}, "axis": null},
            "y2": {"field": "y1"}
          }
        },
        {
          "mark": {"type": "rule", "color": "#3a3a3a", "strokeWidth": 1.2},
          "encoding": {
            "x": {"field": "x0", "type": "quantitative", "scale": {"domain": [0.14133, 0.91924], "nice": false, "zero": false}, "axis": null},
            "x2": {"field": "x1"},
            "y": {"field": "y0", "type": "quantitative", "scale": {"domain": [0.10201, 0.91345], "nice": false, "zero": false}, "axis": null}
          }
        },
        {
          "mark": {"type": "text", "font": "Liberation Sans", "fontSize": 8.5, "align": "center", "baseline": "middle"},
          "encoding": {
            "x": {"field": "cx", "type": "quantitative", "scale": {"domain": [0.14133, 0.91924], "nice": false, "zero": false}, "axis": null},
            "y": {"field": "cy", "type": "quantitative", "scale": {"domain": [0.10201, 0.91345], "nice": false, "zero": false}, "axis": null},
            "text": {"field": "b"},
            "color": {"condition": {"test": "datum.b === 'noGUI'", "value": "#00003c"}, "value": "#1a1a1a"}
          }
        }
      ]
    }
  ]
}
